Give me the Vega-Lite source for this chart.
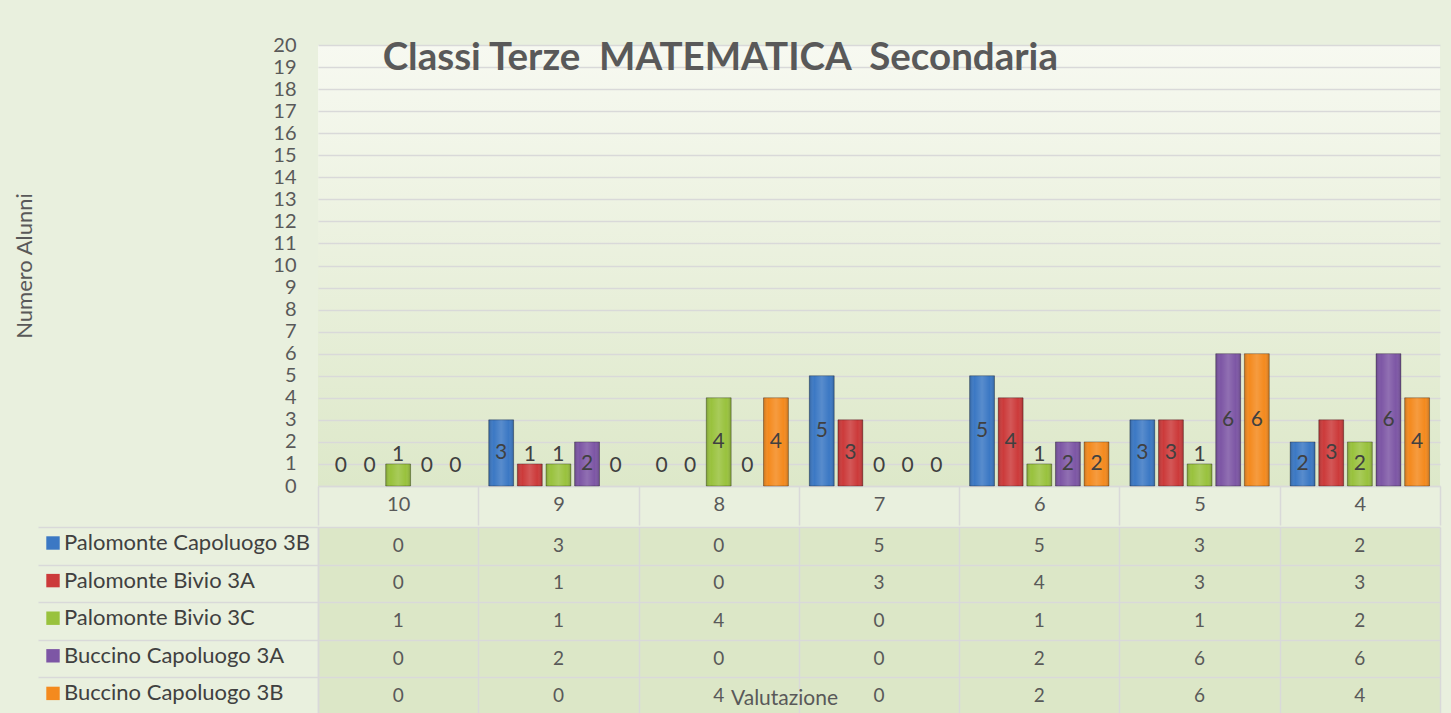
{
  "$schema": "https://vega.github.io/schema/vega-lite/v6.json",
  "background": "#e9f0de",
  "padding": {"left": 13, "top": 35, "right": 11, "bottom": 0},
  "spacing": 0,
  "config": {"font": "Lato", "view": {"stroke": null}},
  "datasets": {
    "d": [
      {"voto": "10", "classe": "Palomonte Capoluogo 3B", "n": 0},
      {"voto": "10", "classe": "Palomonte Bivio 3A", "n": 0},
      {"voto": "10", "classe": "Palomonte Bivio 3C", "n": 1},
      {"voto": "10", "classe": "Buccino Capoluogo 3A", "n": 0},
      {"voto": "10", "classe": "Buccino Capoluogo 3B", "n": 0},
      {"voto": "9", "classe": "Palomonte Capoluogo 3B", "n": 3},
      {"voto": "9", "classe": "Palomonte Bivio 3A", "n": 1},
      {"voto": "9", "classe": "Palomonte Bivio 3C", "n": 1},
      {"voto": "9", "classe": "Buccino Capoluogo 3A", "n": 2},
      {"voto": "9", "classe": "Buccino Capoluogo 3B", "n": 0},
      {"voto": "8", "classe": "Palomonte Capoluogo 3B", "n": 0},
      {"voto": "8", "classe": "Palomonte Bivio 3A", "n": 0},
      {"voto": "8", "classe": "Palomonte Bivio 3C", "n": 4},
      {"voto": "8", "classe": "Buccino Capoluogo 3A", "n": 0},
      {"voto": "8", "classe": "Buccino Capoluogo 3B", "n": 4},
      {"voto": "7", "classe": "Palomonte Capoluogo 3B", "n": 5},
      {"voto": "7", "classe": "Palomonte Bivio 3A", "n": 3},
      {"voto": "7", "classe": "Palomonte Bivio 3C", "n": 0},
      {"voto": "7", "classe": "Buccino Capoluogo 3A", "n": 0},
      {"voto": "7", "classe": "Buccino Capoluogo 3B", "n": 0},
      {"voto": "6", "classe": "Palomonte Capoluogo 3B", "n": 5},
      {"voto": "6", "classe": "Palomonte Bivio 3A", "n": 4},
      {"voto": "6", "classe": "Palomonte Bivio 3C", "n": 1},
      {"voto": "6", "classe": "Buccino Capoluogo 3A", "n": 2},
      {"voto": "6", "classe": "Buccino Capoluogo 3B", "n": 2},
      {"voto": "5", "classe": "Palomonte Capoluogo 3B", "n": 3},
      {"voto": "5", "classe": "Palomonte Bivio 3A", "n": 3},
      {"voto": "5", "classe": "Palomonte Bivio 3C", "n": 1},
      {"voto": "5", "classe": "Buccino Capoluogo 3A", "n": 6},
      {"voto": "5", "classe": "Buccino Capoluogo 3B", "n": 6},
      {"voto": "4", "classe": "Palomonte Capoluogo 3B", "n": 2},
      {"voto": "4", "classe": "Palomonte Bivio 3A", "n": 3},
      {"voto": "4", "classe": "Palomonte Bivio 3C", "n": 2},
      {"voto": "4", "classe": "Buccino Capoluogo 3A", "n": 6},
      {"voto": "4", "classe": "Buccino Capoluogo 3B", "n": 4}
    ]
  },
  "vconcat": [
    {
      "width": 1122,
      "height": 441,
      "view": {"fill": {"gradient": "linear", "x1": 0, "y1": 0, "x2": 0, "y2": 1, "stops": [{"offset": 0, "color": "#f7f9f1"}, {"offset": 1, "color": "#dde8c9"}]}},
      "title": {"text": "Classi Terze \u00a0MATEMATICA \u00a0Secondaria", "fontSize": 38.5, "fontWeight": "bold", "color": "#595959", "anchor": "middle", "frame": "bounds", "baseline": "alphabetic", "offset": 0, "dy": 73.5, "dx": -7},
      "data": {"name": "d"},
      "encoding": {
        "x": {
          "field": "voto", "type": "nominal", "sort": ["10", "9", "8", "7", "6", "5", "4"],
          "scale": {"paddingInner": 0, "paddingOuter": 0},
          "axis": {"orient": "bottom", "title": null, "labelAngle": 0, "domain": true, "domainColor": "#d9d9d9", "domainWidth": 1.5, "ticks": true, "tickBand": "extent", "tickSize": 39, "tickColor": "#d9d9d9", "tickWidth": 1.5, "labelFontSize": 20, "labelColor": "#595959", "labelPadding": -21, "labelBaseline": "middle"}
        },
        "xOffset": {
          "field": "classe", "type": "nominal",
          "sort": ["Palomonte Capoluogo 3B", "Palomonte Bivio 3A", "Palomonte Bivio 3C", "Buccino Capoluogo 3A", "Buccino Capoluogo 3B"],
          "scale": {"paddingInner": 0.13, "paddingOuter": 0.365}
        }
      },
      "layer": [
        {
          "transform": [{"filter": "datum.n > 0"}],
          "mark": {"type": "bar", "stroke": "rgba(0,0,0,0.3)", "strokeWidth": 1},
          "encoding": {
            "y": {
              "field": "n", "type": "quantitative", "scale": {"domain": [0, 20]},
              "axis": {"values": [0,1,2,3,4,5,6,7,8,9,10,11,12,13,14,15,16,17,18,19,20], "grid": true, "gridColor": "#d9d9d9", "gridWidth": 1.5, "domain": false, "ticks": false, "labelFontSize": 20, "labelColor": "#595959", "labelPadding": 22, "labelOverlap": false, "labelFlush": false, "title": "Numero Alunni", "titleFontSize": 22, "titleFontWeight": "normal", "titleColor": "#595959", "titlePadding": 236}
            },
            "color": {
              "field": "classe", "type": "nominal",
              "scale": {"domain": ["Palomonte Capoluogo 3B", "Palomonte Bivio 3A", "Palomonte Bivio 3C", "Buccino Capoluogo 3A", "Buccino Capoluogo 3B"], "range": ["#3b78c4", "#cc3a3a", "#99c23d", "#7d56a5", "#f48a1e"]},
              "legend": {"orient": "none", "legendX": -276, "legendY": 487, "title": null, "symbolType": "square", "symbolSize": 180, "symbolStrokeWidth": 0, "symbolOpacity": 1, "labelFontSize": 22, "labelColor": "#404040", "labelOffset": 0, "rowPadding": 15.6, "padding": 0, "labelLimit": 400}
            }
          }
        },
        {
          "transform": [{"filter": "datum.n > 0"}],
          "mark": {"type": "bar", "fill": {"gradient": "linear", "x1": 0, "y1": 0, "x2": 1, "y2": 0, "stops": [{"offset": 0, "color": "rgba(0,0,0,0.2)"}, {"offset": 0.2, "color": "rgba(255,255,255,0)"}, {"offset": 0.5, "color": "rgba(255,255,255,0.15)"}, {"offset": 0.8, "color": "rgba(255,255,255,0)"}, {"offset": 1, "color": "rgba(0,0,0,0.2)"}]}},
          "encoding": {
            "y": {"field": "n", "type": "quantitative", "scale": {"domain": [0, 20]}, "axis": null}
          }
        },
        {
          "transform": [{"filter": "datum.n >= 2"}],
          "mark": {"type": "text", "fontSize": 21, "color": "#404040", "baseline": "middle"},
          "encoding": {
            "y": {"field": "n", "type": "quantitative", "scale": {"domain": [0, 40]}, "axis": null},
            "text": {"field": "n", "type": "quantitative"}
          }
        },
        {
          "transform": [{"filter": "datum.n <= 1"}],
          "mark": {"type": "text", "fontSize": 21, "color": "#404040", "baseline": "middle", "dy": -20},
          "encoding": {
            "y": {"field": "n", "type": "quantitative", "scale": {"domain": [0, 40]}, "axis": null},
            "text": {"field": "n", "type": "quantitative"}
          }
        }
      ],
      "resolve": {"scale": {"y": "independent"}}
    },
    {
      "width": 1122,
      "height": 188,
      "view": {"fill": "#dce7c7"},
      "data": {"name": "d"},
      "mark": {"type": "text", "fontSize": 19, "color": "#595959", "baseline": "middle"},
      "encoding": {
        "x": {
          "field": "voto", "type": "nominal", "sort": ["10", "9", "8", "7", "6", "5", "4"],
          "scale": {"paddingInner": 0, "paddingOuter": 0},
          "axis": {"orient": "bottom", "labels": false, "ticks": false, "domain": false, "grid": true, "gridColor": "#d9d9d9", "gridWidth": 1.5, "tickBand": "extent", "title": "Valutazione", "titleFontSize": 21, "titleFontWeight": "normal", "titleColor": "#595959", "titleX": 466, "titleY": -17, "titleBaseline": "middle"}
        },
        "y": {
          "field": "classe", "type": "nominal",
          "sort": ["Palomonte Capoluogo 3B", "Palomonte Bivio 3A", "Palomonte Bivio 3C", "Buccino Capoluogo 3A", "Buccino Capoluogo 3B"],
          "scale": {"paddingInner": 0, "paddingOuter": 0},
          "axis": {"labels": false, "title": null, "domain": true, "domainColor": "#d9d9d9", "domainWidth": 1.5, "ticks": true, "tickBand": "extent", "tickSize": 280, "tickColor": "#d9d9d9", "tickWidth": 1.5, "grid": true, "gridColor": "#d9d9d9", "gridWidth": 1.5}
        },
        "text": {"field": "n", "type": "quantitative"}
      }
    }
  ]
}
